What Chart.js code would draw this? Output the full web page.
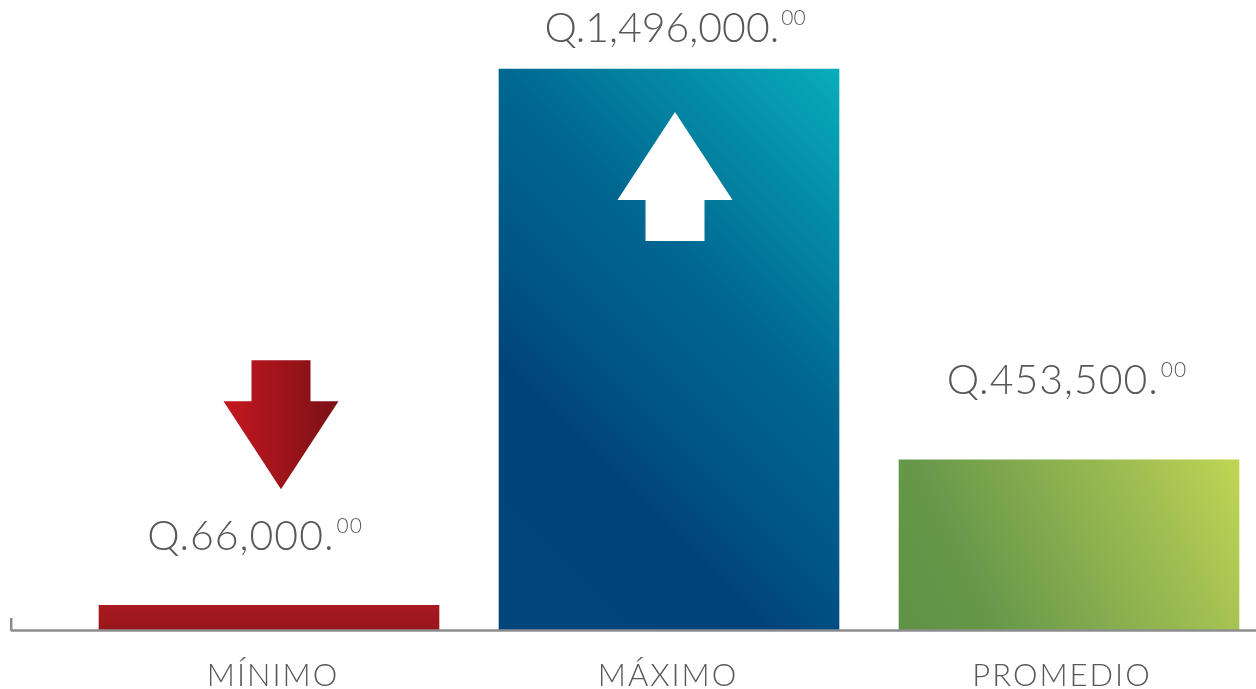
<!DOCTYPE html>
<html>
<head>
<meta charset="utf-8">
<script src="https://cdn.jsdelivr.net/npm/chart.js@4.4.1/dist/chart.umd.min.js"></script>
<style>
  html, body { margin: 0; padding: 0; background: #ffffff; overflow: hidden; }
  #wrap { position: relative; width: 1256px; height: 689px; }
</style>
</head>
<body>
<div id="wrap"><canvas id="c" width="1256" height="689"></canvas></div>
<script>
// Categories and amounts (quetzales)
const categories = ['MÍNIMO', 'MÁXIMO', 'PROMEDIO'];
const values = [66000, 1496000, 453500];
const cents = ['00', '00', '00'];

const TEXT = '#58585a';
const FONT = '"Lato", "Open Sans", sans-serif';

function money(v) {
  return 'Q.' + v.toLocaleString('en-US') + '.';
}

// Gradient fills per bar, built from the bar's own scale geometry
function barFill(context) {
  const chart = context.chart;
  const area = chart.chartArea;
  const i = context.dataIndex;
  const fallback = ['#a0161c', '#00457b', '#7fa84b'][i];
  if (!area || !chart.scales.x || i === undefined) return fallback;
  const g = chart.ctx;
  const xs = chart.scales.x, ys = chart.scales.y;
  const cx = xs.getPixelForValue(i);
  const left = cx - 170, right = cx + 170;
  const top = ys.getPixelForValue(values[i]);
  const bottom = ys.getPixelForValue(0);
  let grad;
  if (i === 0) {
    grad = g.createLinearGradient(0, top, 0, bottom);
    grad.addColorStop(0, '#a81a20');
    grad.addColorStop(1, '#97151b');
  } else if (i === 1) {
    grad = g.createLinearGradient(left, bottom, left + 450, bottom - 450);
    grad.addColorStop(0, '#00467c');
    grad.addColorStop(0.3, '#00437a');
    grad.addColorStop(0.42, '#005585');
    grad.addColorStop(0.62, '#006791');
    grad.addColorStop(1, '#08adbb');
  } else {
    grad = g.createLinearGradient(left, bottom, right, top);
    grad.addColorStop(0, '#5e9244');
    grad.addColorStop(0.234, '#67984a');
    grad.addColorStop(0.766, '#a3c052');
    grad.addColorStop(1, '#c0d654');
  }
  return grad;
}

// Block arrow: tip at (x, tipY); dir = -1 points up, +1 points down
function drawArrow(g, x, tipY, dir, fill) {
  const headH = 88, shaftH = 41, headW = 57.5, shaftW = 29.5;
  const baseY = tipY - dir * headH;
  const endY = baseY - dir * shaftH;
  g.beginPath();
  g.moveTo(x, tipY);
  g.lineTo(x + headW, baseY);
  g.lineTo(x + shaftW, baseY);
  g.lineTo(x + shaftW, endY);
  g.lineTo(x - shaftW, endY);
  g.lineTo(x - shaftW, baseY);
  g.lineTo(x - headW, baseY);
  g.closePath();
  g.fillStyle = fill;
  g.fill();
}

const decorations = {
  id: 'decorations',
  afterDatasetsDraw(chart, args, opts) {
    const g = chart.ctx;
    const meta = chart.getDatasetMeta(0);
    const area = chart.chartArea;
    const baseY = chart.scales.y.getPixelForValue(0);
    g.save();

    // Baseline axis with a small tick on the left end
    g.strokeStyle = '#8d8d90';
    g.lineWidth = 2.5;
    g.beginPath();
    g.moveTo(area.left + 1, baseY + 0.5);
    g.lineTo(chart.width, baseY + 0.5);
    g.stroke();
    g.beginPath();
    g.moveTo(area.left + 1.2, baseY - 12);
    g.lineTo(area.left + 1.2, baseY + 1);
    g.stroke();

    // Category labels under the axis
    g.fillStyle = TEXT;
    g.textBaseline = 'alphabetic';
    g.textAlign = 'center';
    g.font = '300 31px ' + FONT;
    g.letterSpacing = opts.catSpacing + 'px';
    meta.data.forEach((bar, i) => {
      g.fillText(categories[i], bar.x + opts.catDx[i], opts.catBaseline);
    });

    // Value labels with raised cents
    meta.data.forEach((bar, i) => {
      const main = money(values[i]);
      g.letterSpacing = opts.valSpacing[i] + 'px';
      g.font = '300 ' + opts.valSize + 'px ' + FONT;
      const wMain = g.measureText(main).width;
      g.font = '300 ' + opts.supSize + 'px ' + FONT;
      const wSup = g.measureText(cents[i]).width;
      const total = wMain + 2 + wSup;
      const x0 = bar.x + opts.valDx[i] - total / 2;
      const y0 = bar.y + opts.valDy[i];
      g.textAlign = 'left';
      g.font = '300 ' + opts.valSize + 'px ' + FONT;
      g.fillText(main, x0, y0);
      g.font = '300 ' + opts.supSize + 'px ' + FONT;
      g.fillText(cents[i], x0 + wMain + 2, y0 - 17);
    });
    g.letterSpacing = '0px';

    // Direction arrows
    const b0 = meta.data[0], b1 = meta.data[1];
    const red = g.createLinearGradient(b0.x + 12 - 57, 0, b0.x + 12 + 57, 0);
    red.addColorStop(0, '#c4171f');
    red.addColorStop(1, '#7a1116');
    drawArrow(g, b0.x + 12, b0.y - 116, 1, red);
    drawArrow(g, b1.x + 6, b1.y + 43, -1, '#ffffff');

    g.restore();
  }
};

new Chart(document.getElementById('c'), {
  type: 'bar',
  data: {
    datasets: [{
      data: values.map((v, i) => ({ x: i, y: v })),
      backgroundColor: barFill,
      borderWidth: 0,
      barThickness: 340
    }]
  },
  options: {
    responsive: false,
    devicePixelRatio: 1,
    animation: false,
    layout: { padding: { left: 10, right: 0, top: 0, bottom: 59 } },
    plugins: {
      legend: { display: false },
      tooltip: { enabled: false },
      decorations: {
        catBaseline: 686,
        catSpacing: 2,
        catDx: [4, -1, -7],
        valSize: 41,
        supSize: 21,
        valSpacing: [1, 0, 1],
        valDx: [-14, 6, -2],
        valDy: [-55, -27, -66]
      }
    },
    scales: {
      x: {
        type: 'linear',
        display: false,
        offset: false,
        min: -0.6475,
        max: 2.4675,
        ticks: { stepSize: 1, includeBounds: false }
      },
      y: {
        display: false,
        min: 0,
        max: 1680000
      }
    }
  },
  plugins: [decorations]
});
</script>
</body>
</html>
